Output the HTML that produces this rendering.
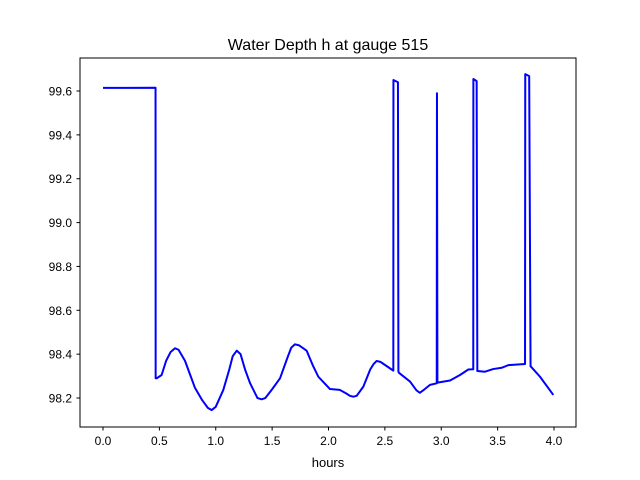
<!DOCTYPE html>
<html><head><meta charset="utf-8"><style>
body{margin:0;background:#fff;}
svg{display:block;font-family:"Liberation Sans","DejaVu Sans",sans-serif;}
</style></head><body>
<svg id="chart" width="640" height="480">
<text x="328" y="50" font-size="16" text-anchor="middle">Water Depth h at gauge 515</text>
<g id="ticks"></g>
<polyline id="line" fill="none" stroke="#0000ff" stroke-width="2" stroke-linejoin="round"/>
<rect x="80" y="58" width="496" height="369" fill="none" stroke="#000" stroke-width="1"/>
<text x="328" y="467" font-size="13" text-anchor="middle">hours</text>
</svg>
<script>
const times=[0,0.466,0.467,0.476,0.52,0.56,0.60,0.639,0.67,0.727,0.77,0.816,0.88,0.93,0.964,1.0,1.067,1.12,1.15,1.186,1.22,1.26,1.304,1.37,1.407,1.44,1.50,1.57,1.64,1.67,1.703,1.74,1.806,1.86,1.91,2.013,2.10,2.16,2.19,2.22,2.25,2.309,2.37,2.40,2.427,2.46,2.575,2.576,2.616,2.62,2.625,2.723,2.78,2.81,2.84,2.90,2.96,2.962,2.966,3.078,3.166,3.24,3.284,3.285,3.314,3.32,3.388,3.46,3.536,3.595,3.743,3.745,3.78,3.792,3.796,3.876,3.994];
const depths=[99.614,99.615,98.29,98.29,98.305,98.37,98.41,98.427,98.42,98.37,98.31,98.246,98.19,98.155,98.145,98.16,98.237,98.33,98.39,98.416,98.40,98.33,98.268,98.2,98.194,98.2,98.24,98.29,98.39,98.43,98.445,98.44,98.416,98.35,98.297,98.241,98.237,98.22,98.21,98.206,98.21,98.252,98.33,98.355,98.369,98.365,98.325,99.65,99.64,98.32,98.315,98.275,98.235,98.224,98.235,98.26,98.267,99.59,98.27,98.28,98.305,98.33,98.331,99.655,99.645,98.323,98.32,98.332,98.338,98.35,98.355,99.677,99.668,98.345,98.343,98.297,98.214];
const xTicks=[0,0.5,1,1.5,2,2.5,3,3.5,4];
const yTicks=[98.2,98.4,98.6,98.8,99.0,99.2,99.4,99.6];
const X=t=>103+t*112.75;
const Y=h=>91+(99.6-h)*219.3;
const ns="http://www.w3.org/2000/svg";
const line=document.getElementById('line');
line.setAttribute('points',times.map((t,i)=>X(t).toFixed(2)+','+Y(depths[i]).toFixed(2)).join(' '));
const g=document.getElementById('ticks');
xTicks.forEach(v=>{
 const l=document.createElementNS(ns,'line');
 
 
 l.setAttribute('x1',X(v));l.setAttribute('x2',X(v));l.setAttribute('y1',427);l.setAttribute('y2',430.5);l.setAttribute('stroke','#000');
 g.appendChild(l);
 const t=document.createElementNS(ns,'text');
 
 
 t.setAttribute('x',X(v));t.setAttribute('y',445);t.setAttribute('font-size','12');t.setAttribute('text-anchor','middle');
 t.textContent=v.toFixed(1);g.appendChild(t);
});
yTicks.forEach(v=>{
 const l=document.createElementNS(ns,'line');
 
 
 l.setAttribute('x1',76.5);l.setAttribute('x2',80);l.setAttribute('y1',Y(v));l.setAttribute('y2',Y(v));l.setAttribute('stroke','#000');
 g.appendChild(l);
 const t=document.createElementNS(ns,'text');
 
 
 t.setAttribute('x',72);t.setAttribute('y',Y(v)+4.5);t.setAttribute('font-size','12');t.setAttribute('text-anchor','end');
 t.textContent=v.toFixed(1);g.appendChild(t);
});
</script>
</body></html>
